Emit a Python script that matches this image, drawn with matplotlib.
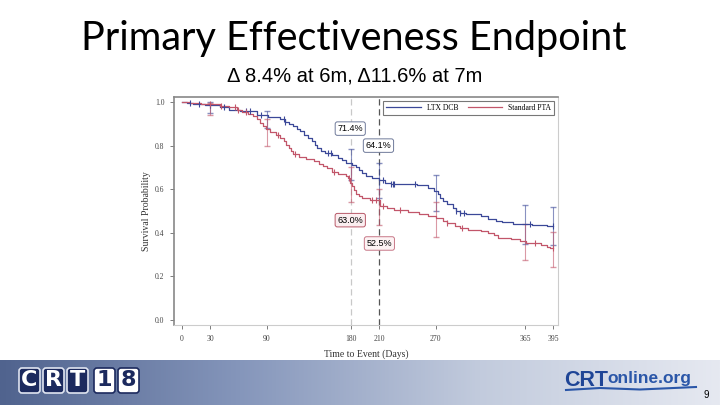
import numpy as np
import matplotlib
matplotlib.use("Agg")
import matplotlib.pyplot as plt
from matplotlib.colors import LinearSegmentedColormap
from matplotlib.patches import FancyBboxPatch

# Kaplan-Meier curves (step after each time)
ltx_t = [0, 5, 12, 25, 40, 50, 62, 80, 92, 104, 110, 114, 118, 122, 126, 130, 134, 138, 141,
         144, 148, 152, 160, 166, 170, 174, 181, 185, 188, 192, 196, 202, 210, 216, 222, 250,
         262, 268, 272, 274, 278, 282, 288, 292, 296, 302, 318, 326, 334, 340, 352, 372, 388, 395]
ltx_s = [1.0, 0.995, 0.99, 0.985, 0.975, 0.965, 0.958, 0.94, 0.93, 0.92, 0.91, 0.9, 0.89, 0.878,
         0.865, 0.85, 0.835, 0.82, 0.805, 0.79, 0.775, 0.765, 0.755, 0.745, 0.732, 0.722, 0.71,
         0.70, 0.69, 0.675, 0.662, 0.652, 0.641, 0.63, 0.625, 0.618, 0.605, 0.59, 0.578, 0.56,
         0.545, 0.53, 0.515, 0.5, 0.49, 0.485, 0.475, 0.465, 0.455, 0.448, 0.442, 0.435, 0.43, 0.43]

pta_t = [0, 8, 20, 40, 50, 58, 64, 70, 76, 80, 83, 86, 89, 94, 100, 104, 108, 111, 114, 116,
         118, 124, 132, 140, 146, 150, 154, 160, 166, 174, 177, 179, 181, 183, 185, 188, 192,
         200, 211, 218, 226, 240, 252, 262, 270, 278, 282, 290, 296, 304, 318, 326, 332, 336,
         350, 360, 366, 376, 382, 388, 392, 395]
pta_s = [1.0, 0.995, 0.99, 0.982, 0.975, 0.965, 0.955, 0.945, 0.935, 0.92, 0.905, 0.89, 0.875,
         0.862, 0.85, 0.835, 0.82, 0.805, 0.79, 0.775, 0.76, 0.748, 0.74, 0.728, 0.715, 0.705,
         0.695, 0.68, 0.672, 0.662, 0.65, 0.63, 0.615, 0.595, 0.58, 0.568, 0.56, 0.55, 0.525,
         0.515, 0.505, 0.497, 0.488, 0.478, 0.468, 0.455, 0.445, 0.43, 0.42, 0.415, 0.41, 0.4,
         0.39, 0.378, 0.372, 0.362, 0.355, 0.352, 0.345, 0.335, 0.328, 0.328]

ltx_cens = [8, 18, 30, 45, 68, 72, 84, 108, 110, 155, 158, 214, 222, 224, 226, 248, 292, 296, 300, 370, 395]
pta_cens = [30, 42, 56, 60, 68, 102, 120, 162, 178, 202, 206, 214, 232, 282, 298, 376, 395]

# confidence intervals at landmark days
ci_days = [30, 90, 180, 210, 270, 365, 395]
ltx_lo = [0.95, 0.88, 0.64, 0.56, 0.50, 0.35, 0.345]
ltx_hi = [1.0, 0.96, 0.786, 0.718, 0.664, 0.527, 0.519]
pta_lo = [0.94, 0.80, 0.542, 0.435, 0.382, 0.275, 0.244]
pta_hi = [0.995, 0.92, 0.70, 0.603, 0.542, 0.44, 0.405]

xticks = [0, 30, 90, 180, 210, 270, 365, 395]
yticks = [0.0, 0.2, 0.4, 0.6, 0.8, 1.0]

blue = "#3b4898"
red = "#c2566a"


def step_at(t, s, x):
    i = np.searchsorted(t, x, side="right") - 1
    return np.array(s)[i]


fig = plt.figure(figsize=(7.2, 4.05), dpi=100)
fig.patch.set_facecolor("white")

fig.text(0.492, 0.905, "Primary Effectiveness Endpoint", ha="center", va="center",
         fontsize=28.5, family="Lato", color="black")
fig.text(0.492, 0.813, "\u0394 8.4% at 6m, \u039411.6% at 7m", ha="center", va="center",
         fontsize=14.5, family="Liberation Sans", color="black")

ax = fig.add_axes([174 / 720, 1 - 325 / 405, (558 - 174) / 720, (325 - 97) / 405])
ax.set_xlim(-8.5, 400)
ax.set_ylim(-0.023, 1.023)

ax.axvline(180, color="#c8c8c8", lw=0.9, ls=(0, (5, 3)), zorder=1)
ax.axvline(210, color="#555555", lw=0.9, ls=(0, (5, 3)), zorder=1)

ax.step(ltx_t, ltx_s, where="post", color=blue, lw=0.9, label="LTX DCB", zorder=3)
ax.step(pta_t, pta_s, where="post", color=red, lw=0.9, label="Standard PTA", zorder=3)

ax.plot(ltx_cens, step_at(ltx_t, ltx_s, ltx_cens), ls="none", marker="|", ms=4,
        mew=0.8, color=blue, zorder=4)
ax.plot(pta_cens, step_at(pta_t, pta_s, pta_cens), ls="none", marker="|", ms=4,
        mew=0.8, color=red, zorder=4)

ltx_mid = step_at(ltx_t, ltx_s, ci_days)
pta_mid = step_at(pta_t, pta_s, ci_days)
ax.errorbar(ci_days, ltx_mid, yerr=[ltx_mid - np.array(ltx_lo), np.array(ltx_hi) - ltx_mid],
            fmt="none", ecolor=blue, elinewidth=0.8, capsize=2.5, alpha=0.6, zorder=2)
ax.errorbar(ci_days, pta_mid, yerr=[pta_mid - np.array(pta_lo), np.array(pta_hi) - pta_mid],
            fmt="none", ecolor=red, elinewidth=0.8, capsize=2.5, alpha=0.6, zorder=2)

box_kw = dict(fontsize=6.5, family="Liberation Sans", ha="center", va="center", zorder=5)
ax.text(179, 0.878, "71.4%", bbox=dict(boxstyle="round,pad=0.25", fc="white", ec="#6f7a9a", lw=0.7), **box_kw)
ax.text(209, 0.80, "64.1%", bbox=dict(boxstyle="round,pad=0.25", fc="white", ec="#6f7a9a", lw=0.7), **box_kw)
ax.text(179, 0.458, "63.0%", bbox=dict(boxstyle="round,pad=0.25", fc="#fbeef0", ec="#b85868", lw=0.7), **box_kw)
ax.text(210, 0.351, "52.5%", bbox=dict(boxstyle="round,pad=0.25", fc="#fdf3f4", ec="#c87888", lw=0.7), **box_kw)

ax.set_xticks(xticks)
ax.set_xticklabels([str(v) for v in xticks], family="Liberation Serif", fontsize=5.5, color="#444444")
ax.set_yticks(yticks)
ax.set_yticklabels(["%.1f" % v for v in yticks], family="Liberation Serif", fontsize=5.5, color="#444444")
ax.tick_params(length=3, width=0.6, colors="#666666", labelcolor="#444444", pad=4)
ax.set_xlabel("Time to Event (Days)", family="Liberation Serif", fontsize=7, color="#333333", labelpad=5)
ax.set_ylabel("Survival Probability", family="Liberation Serif", fontsize=7, color="#333333", labelpad=3)
for side in ["left", "top"]:
    ax.spines[side].set_color("#888888")
    ax.spines[side].set_linewidth(1.2)
for side in ["right", "bottom"]:
    ax.spines[side].set_color("#cccccc")
    ax.spines[side].set_linewidth(0.8)

leg = ax.legend(loc="upper right", ncol=2, frameon=True, fancybox=False,
                prop={"family": "Liberation Serif", "size": 5.5}, handlelength=4.5,
                borderpad=0.4, columnspacing=1.2, handletextpad=0.8, borderaxespad=0.5)
leg.get_frame().set_edgecolor("#555555")
leg.get_frame().set_linewidth(0.8)

# footer band
fax = fig.add_axes([0, 0, 1, 45 / 405])
band = LinearSegmentedColormap.from_list("band", ["#50638e", "#8596bb", "#c2cbdd", "#e6e9f1"])
fax.imshow(np.linspace(0, 1, 256)[None, :], aspect="auto", cmap=band, extent=[0, 720, 0, 45])
fax.set_xlim(0, 720)
fax.set_ylim(0, 45)
fax.axis("off")

letters = ["C", "R", "T", "1", "8"]
lefts = [18, 42, 66, 93, 117]
for ch, x0 in zip(letters, lefts):
    dark = ch in "CRT"
    fax.add_patch(FancyBboxPatch((x0 + 1, 12), 21, 25, boxstyle="round,pad=0,rounding_size=3",
                                 fc="#1c2a5e" if dark else "white", ec="#dfe4f0" if dark else "#1c2a5e",
                                 lw=1.2))
    fax.text(x0 + 11.5, 24.5, ch, ha="center", va="center", fontsize=16, fontweight="bold",
             family=["Liberation Sans Narrow", "DejaVu Sans"], color="white" if dark else "#1c2a5e")

fax.text(564, 25, "CRT", ha="left", va="center", fontsize=15.5, fontweight="bold",
         family="Liberation Sans", color="#1f4596")
fax.text(607, 26, "online.org", ha="left", va="center", fontsize=12.5, fontweight="bold",
         family="Liberation Sans", color="#2a56a8")
fax.plot([566, 600, 640, 696], [15, 17, 15.5, 18], color="#2a56a8", lw=1.5)
fax.text(706, 10, "9", ha="center", va="center", fontsize=7, family="Liberation Sans", color="black")

fig.savefig("out.png", dpi=100)
